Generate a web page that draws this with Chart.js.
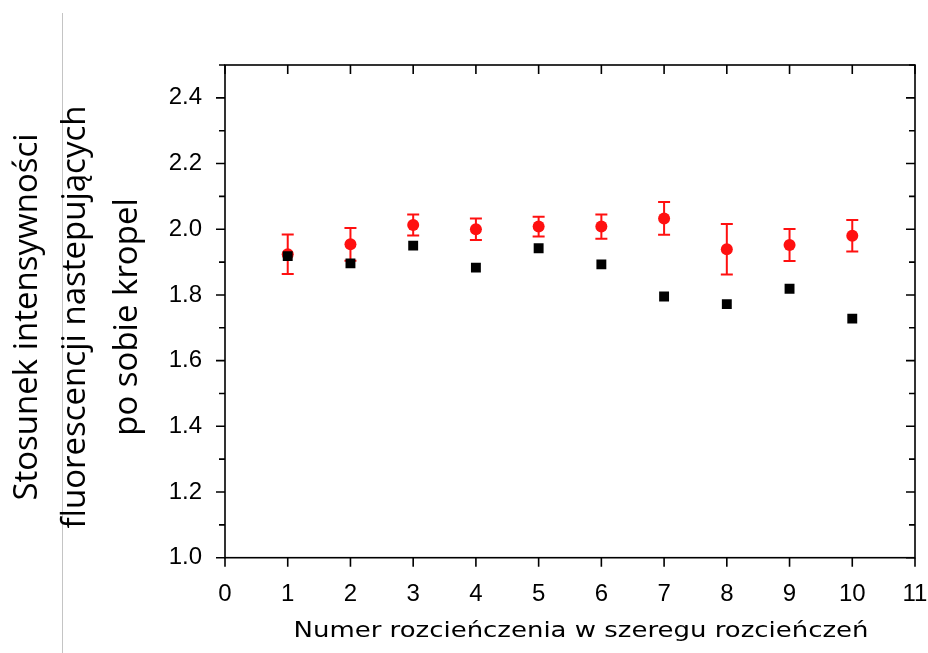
<!DOCTYPE html>
<html>
<head>
<meta charset="utf-8">
<script src="https://cdn.jsdelivr.net/npm/chart.js@4.4.1/dist/chart.umd.min.js"></script>
<style>
  html, body { margin: 0; padding: 0; background: #fff; }
  #wrap { width: 928px; height: 653px; position: relative; }
</style>
</head>
<body>
<div id="wrap"><canvas id="chart" width="928" height="653"></canvas></div>
<script>
// Numer rozcieńczenia (x)
const dilutions = [1, 2, 3, 4, 5, 6, 7, 8, 9, 10];
// black squares
const blackRatio = [1.918, 1.896, 1.950, 1.883, 1.942, 1.893, 1.795, 1.772, 1.819, 1.728];
// red circles with error bars
const redRatio = [1.924, 1.954, 2.013, 2.000, 2.008, 2.008, 2.033, 1.939, 1.952, 1.980];
const redErr = [0.060, 0.050, 0.032, 0.033, 0.030, 0.037, 0.050, 0.077, 0.049, 0.048];

const xTicks = [0, 1, 2, 3, 4, 5, 6, 7, 8, 9, 10, 11];
const yLabelled = ['1.0', '1.2', '1.4', '1.6', '1.8', '2.0', '2.2', '2.4'];

const yTitle = ['Stosunek intensywności', 'fluorescencji nastepujących', 'po sobie kropel'];
const xTitle = 'Numer rozcieńczenia w szeregu rozcieńczeń';

const toPoints = (xs, ys) => xs.map((x, i) => ({ x: x, y: ys[i] }));

// error bars are drawn under the markers
const errorBars = {
    id: 'errorBars',
    beforeDatasetsDraw(chart) {
        const ctx = chart.ctx;
        const xs = chart.scales.x, ys = chart.scales.y;
        ctx.save();
        ctx.strokeStyle = '#ff1010';
        ctx.lineWidth = 2;
        dilutions.forEach((d, i) => {
            const px = xs.getPixelForValue(d);
            const top = ys.getPixelForValue(redRatio[i] + redErr[i]);
            const bot = ys.getPixelForValue(redRatio[i] - redErr[i]);
            ctx.beginPath();
            ctx.moveTo(px, top); ctx.lineTo(px, bot);
            ctx.moveTo(px - 6, top); ctx.lineTo(px + 6, top);
            ctx.moveTo(px - 6, bot); ctx.lineTo(px + 6, bot);
            ctx.stroke();
        });
        ctx.restore();
    }
};

// frame, ticks and titles
const frame = {
    id: 'frame',
    afterDraw(chart) {
        const ctx = chart.ctx;
        const a = chart.chartArea;
        const xs = chart.scales.x, ys = chart.scales.y;
        ctx.save();

        // grey page line on the left
        ctx.strokeStyle = '#c4c4c4';
        ctx.lineWidth = 1;
        ctx.beginPath();
        ctx.moveTo(62.5, 13); ctx.lineTo(62.5, 653);
        ctx.stroke();

        ctx.strokeStyle = '#000';
        ctx.lineWidth = 1.6;
        ctx.strokeRect(a.left, a.top, a.right - a.left, a.bottom - a.top);

        ctx.beginPath();
        xTicks.forEach(v => {
            const px = xs.getPixelForValue(v);
            ctx.moveTo(px, a.bottom); ctx.lineTo(px, a.bottom + 9);
            ctx.moveTo(px, a.top); ctx.lineTo(px, a.top + 9);
        });
        for (let k = 10; k <= 25; k++) {
            const py = ys.getPixelForValue(k / 10);
            const len = k % 2 === 0 ? 9 : 6;
            ctx.moveTo(a.left - len, py); ctx.lineTo(a.left, py);
            ctx.moveTo(a.right - len, py); ctx.lineTo(a.right, py);
        }
        ctx.stroke();

        // axis titles
        ctx.fillStyle = '#000';
        ctx.textAlign = 'center';
        ctx.textBaseline = 'alphabetic';
        ctx.font = '22px "DejaVu Sans"';
        ctx.save();
        ctx.translate(581, 637);
        ctx.scale(1.18, 1);
        ctx.fillText(xTitle, 0, 0);
        ctx.restore();

        ctx.font = '33px "Open Sans"';
        const base = [37, 85, 137];
        yTitle.forEach((t, i) => {
            ctx.save();
            ctx.translate(base[i], 317);
            ctx.rotate(-Math.PI / 2);
            ctx.fillText(t, 0, 0);
            ctx.restore();
        });
        ctx.restore();
    }
};

const ctx = document.getElementById('chart').getContext('2d');
const chart = new Chart(ctx, {
    type: 'scatter',
    data: {
        datasets: [{
            label: 'black',
            data: toPoints(dilutions, blackRatio),
            pointStyle: 'rect',
            pointRadius: 7,
            backgroundColor: '#000',
            borderColor: '#000',
            borderWidth: 0
        }, {
            label: 'red',
            data: toPoints(dilutions, redRatio),
            pointStyle: 'circle',
            pointRadius: 6,
            backgroundColor: '#ff1010',
            borderColor: '#ff1010',
            borderWidth: 0
        }]
    },
    options: {
        responsive: false,
        animation: false,
        events: [],
        layout: { padding: { top: 65, right: 13, left: 0, bottom: 0 } },
        plugins: {
            legend: { display: false },
            tooltip: { enabled: false }
        },
        scales: {
            x: {
                type: 'linear',
                min: 0, max: 11,
                grid: { display: false },
                border: { display: false },
                afterFit(s) { s.height = 95.3; s.paddingLeft = 0; s.paddingRight = 0; },
                afterBuildTicks(s) { s.ticks = xTicks.map(v => ({ value: v })); },
                ticks: {
                    padding: 14,
                    color: '#000',
                    maxRotation: 0,
                    font: { family: '"Liberation Sans", Arial', size: 24 },
                    callback: v => String(v)
                }
            },
            y: {
                type: 'linear',
                min: 1.0, max: 2.5,
                grid: { display: false },
                border: { display: false },
                afterFit(s) { s.width = 225; s.paddingTop = 0; s.paddingBottom = 0; },
                afterBuildTicks(s) { s.ticks = yLabelled.map(v => ({ value: parseFloat(v) })); },
                ticks: {
                    padding: 15,
                    color: '#000',
                    font: { family: '"Liberation Sans", Arial', size: 24 },
                    callback: v => v.toFixed(1)
                }
            }
        }
    },
    plugins: [errorBars, frame]
});
</script>
</body>
</html>
